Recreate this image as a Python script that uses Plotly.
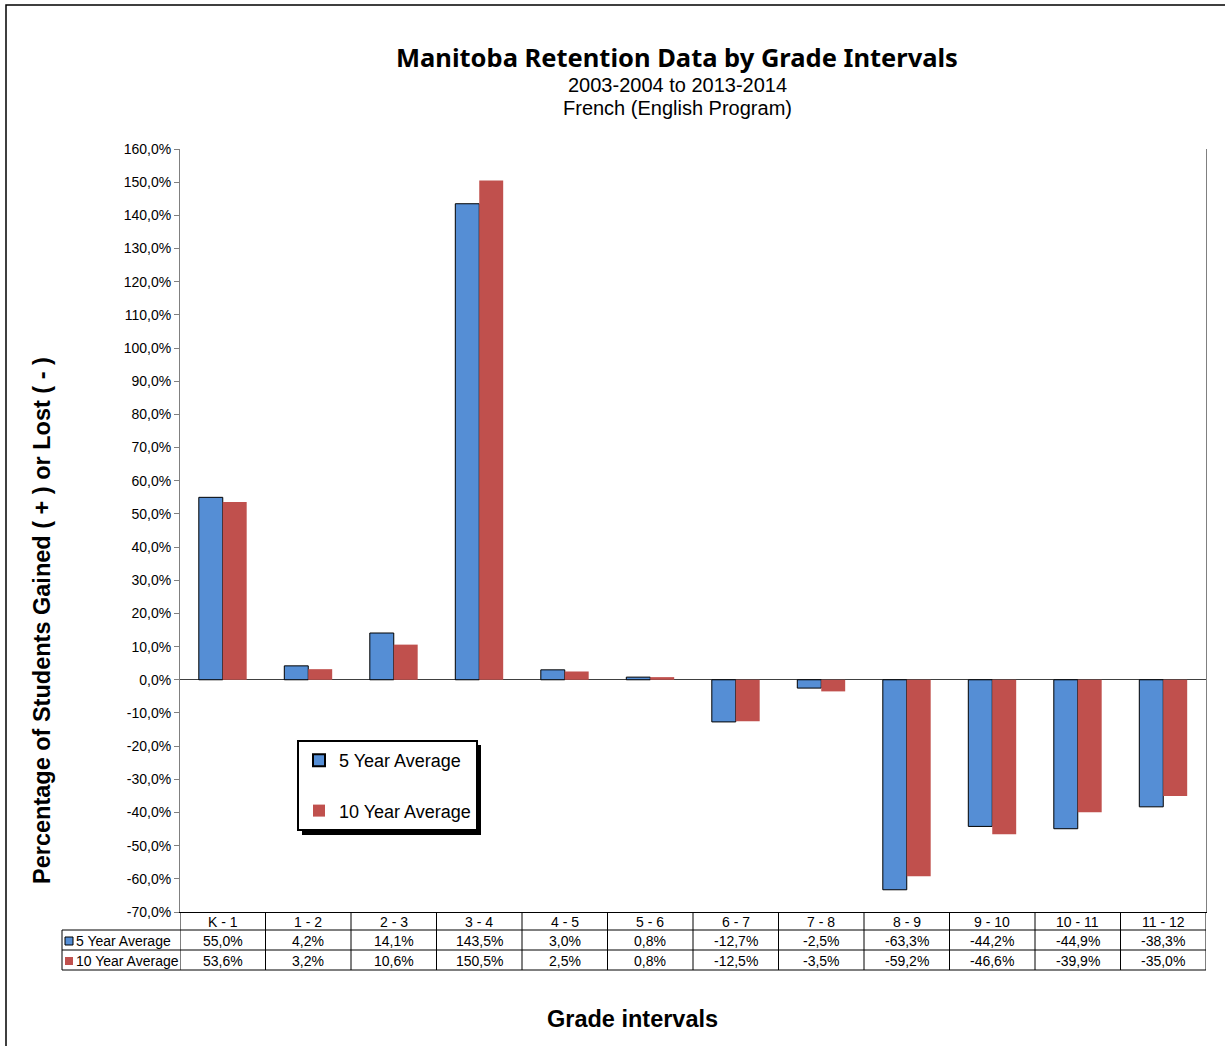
import plotly.graph_objects as go

categories = ["K - 1", "1 - 2", "2 - 3", "3 - 4", "4 - 5", "5 - 6", "6 - 7", "7 - 8", "8 - 9", "9 - 10", "10 - 11", "11 - 12"]
five_year = [55.0, 4.2, 14.1, 143.5, 3.0, 0.8, -12.7, -2.5, -63.3, -44.2, -44.9, -38.3]
ten_year = [53.6, 3.2, 10.6, 150.5, 2.5, 0.8, -12.5, -3.5, -59.2, -46.6, -39.9, -35.0]
series_names = ["5 Year Average", "10 Year Average"]
tick_values = [160, 150, 140, 130, 120, 110, 100, 90, 80, 70, 60, 50, 40, 30, 20, 10, 0,
               -10, -20, -30, -40, -50, -60, -70]
tick_labels = [f"{v:.1f}%".replace(".", ",") for v in tick_values]

BLUE = "#558ED5"
RED = "#C0504D"
FONT = "Liberation Sans, Arial, sans-serif"

W, H = 1225, 1046
L, R, T, B = 180, 1206, 149, 912

def px(x):
    return (x - L) / (R - L)

def py(y):
    return (B - y) / (B - T)

def ann(x, y, text, size, xref="paper", xanchor="center", family=FONT, **kw):
    return dict(x=x, y=y, xref=xref, yref="paper", text=text, showarrow=False,
                xanchor=xanchor, yanchor="middle",
                font=dict(size=size, family=family, color="black"), **kw)

fig = go.Figure()
fig.add_trace(go.Bar(x=categories, y=five_year, name=series_names[0], legendgroup="a",
                     marker=dict(color=BLUE, line=dict(color="black", width=1))))
fig.add_trace(go.Bar(x=categories, y=ten_year, name=series_names[1], legendgroup="b",
                     marker=dict(color=RED, line=dict(width=0))))

shapes = []
annotations = []

# outer border
shapes.append(dict(type="rect", xref="paper", yref="paper", x0=px(6), x1=px(1240), y0=py(1060), y1=py(5),
                   line=dict(color="black", width=1.5), fillcolor="rgba(0,0,0,0)", layer="below"))
# legend shadow
shapes.append(dict(type="rect", xref="paper", yref="paper", x0=px(302), x1=px(481), y0=py(835), y1=py(745),
                   line=dict(width=0), fillcolor="black", layer="above"))

# table lines
for y in [930, 950, 970]:
    shapes.append(dict(type="line", xref="paper", yref="paper", x0=px(62), x1=1, y0=py(y), y1=py(y),
                       line=dict(color="black", width=1)))
for i in range(len(categories) + 1):
    shapes.append(dict(type="line", xref="x", yref="paper", x0=i - 0.5, x1=i - 0.5, y0=py(912), y1=py(970),
                       line=dict(color="black", width=1)))
shapes.append(dict(type="line", xref="paper", yref="paper", x0=px(62), x1=px(62), y0=py(930), y1=py(970),
                   line=dict(color="black", width=1)))

# header + values
for i, c in enumerate(categories):
    annotations.append(ann(c, py(921.5), c, 14, xref="x"))
    annotations.append(ann(c, py(941), f"{five_year[i]:.1f}%".replace(".", ","), 14, xref="x"))
    annotations.append(ann(c, py(961), f"{ten_year[i]:.1f}%".replace(".", ","), 14, xref="x"))

# row labels with keys
shapes.append(dict(type="rect", xref="paper", yref="paper", x0=px(65), x1=px(73), y0=py(945), y1=py(937),
                   fillcolor=BLUE, line=dict(color="black", width=1)))
shapes.append(dict(type="rect", xref="paper", yref="paper", x0=px(65), x1=px(73), y0=py(965), y1=py(957),
                   fillcolor=RED, line=dict(width=0)))
for name, y in zip(series_names, [941, 961]):
    annotations.append(ann(px(74), py(y), name, 14, xanchor="left"))

# titles
annotations.append(ann(px(677), py(57), "<b>Manitoba Retention Data by Grade Intervals</b>", 25.5,
                       family="Noto Sans, sans-serif"))
annotations.append(ann(px(677), py(85), "2003-2004 to 2013-2014", 20))
annotations.append(ann(px(677), py(108), "French (English Program)", 20))
annotations.append(ann(px(42), py(621), "<b>Percentage of Students Gained ( + ) or Lost ( - )</b>", 23.5,
                       textangle=-90))
annotations.append(ann(px(632), py(1019), "<b>Grade intervals</b>", 23.5))

fig.update_layout(
    width=W, height=H,
    margin=dict(l=L, r=W - R, t=T, b=H - B, pad=0),
    paper_bgcolor="white", plot_bgcolor="white",
    barmode="group", bargap=0.44, bargroupgap=0,
    showlegend=True,
    legend=dict(x=px(297), y=py(740), xanchor="left", yanchor="top",
                bgcolor="white", bordercolor="black", borderwidth=2,
                font=dict(size=18, family=FONT, color="black"),
                tracegroupgap=24, itemsizing="constant"),
    shapes=shapes, annotations=annotations,
    font=dict(family=FONT, color="black"),
)
fig.update_xaxes(showticklabels=False, showgrid=False, zeroline=False, ticks="",
                 showline=True, linecolor="black", linewidth=1, mirror=False,
                 range=[-0.5, len(categories) - 0.5])
fig.update_yaxes(range=[-70, 160], tickvals=tick_values, ticktext=tick_labels, showgrid=False,
                 ticks="outside", ticklen=5, tickcolor="#808080",
                 tickfont=dict(size=14, family=FONT, color="black"),
                 showline=True, linecolor="#808080", linewidth=1, mirror=True,
                 zeroline=True, zerolinecolor="#404040", zerolinewidth=1)

fig.write_html("out.html")
